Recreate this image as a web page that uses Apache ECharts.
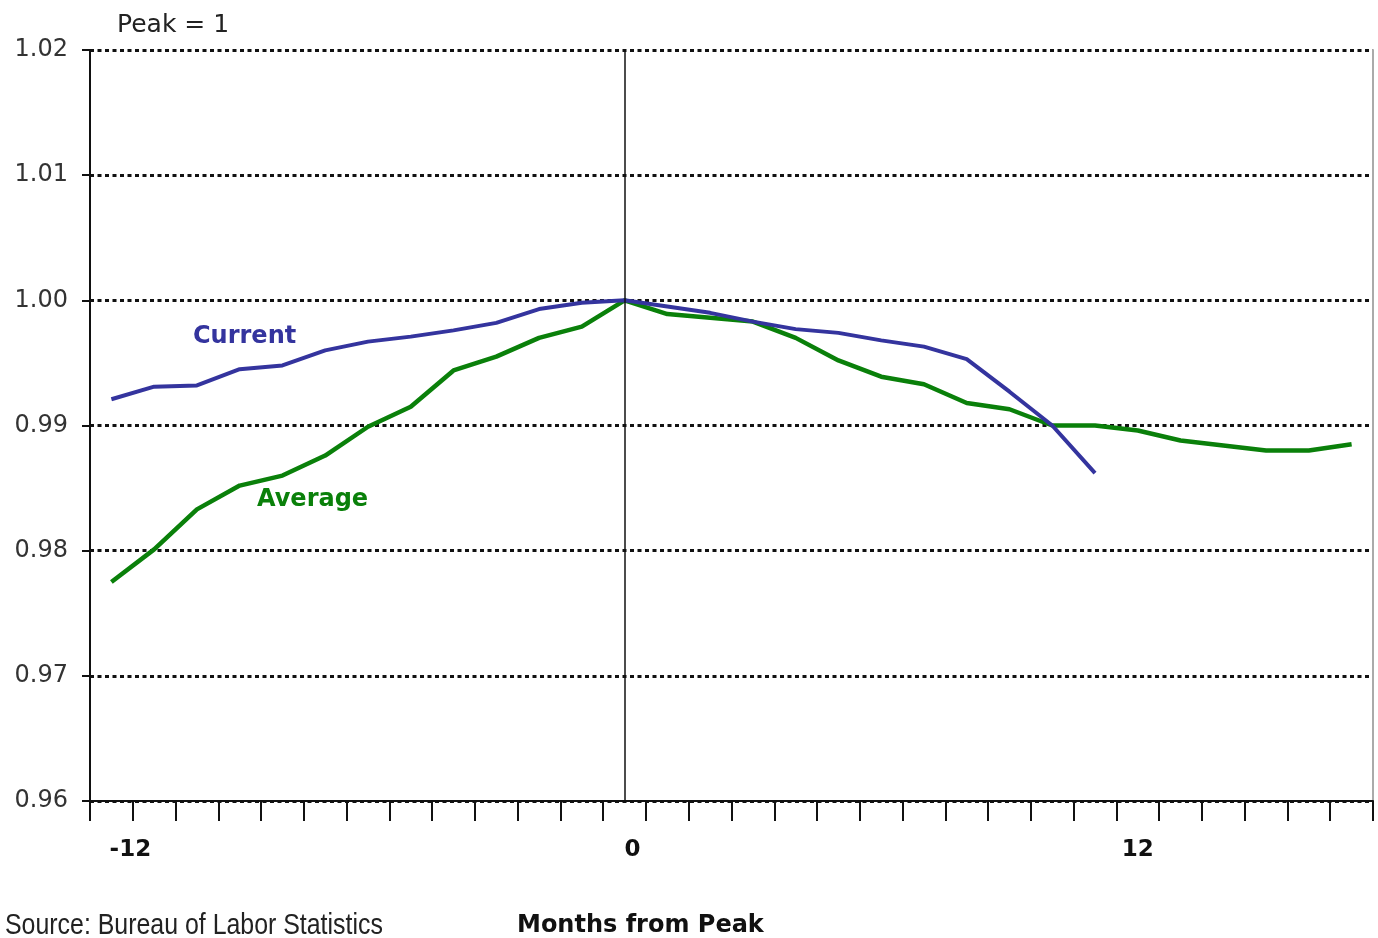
<!DOCTYPE html>
<html>
<head>
<meta charset="utf-8">
<script src="https://cdn.jsdelivr.net/npm/echarts@6/dist/echarts.min.js"></script>
<style>
html,body{margin:0;padding:0;background:#fff;}
#chart{width:1378px;height:938px;}
</style>
</head>
<body>
<div id="chart"></div>
<script>
// Months from peak (categories)
var months = [];
for (var m = -12; m <= 17; m++) months.push(String(m));

// Index values (Peak = 1)
var currentValues = [
  0.9921, 0.9931, 0.9932, 0.9945, 0.9948, 0.9960, 0.9967, 0.9971, 0.9976, 0.9982,
  0.9993, 0.9998, 1.0000, 0.9995, 0.9990, 0.9983, 0.9977, 0.9974, 0.9968, 0.9963,
  0.9953, 0.9927, 0.9900, 0.9862
];
var averageValues = [
  0.9775, 0.9801, 0.9833, 0.9852, 0.9860, 0.9876, 0.9899, 0.9915, 0.9944, 0.9955,
  0.9970, 0.9979, 1.0000, 0.9989, 0.9986, 0.9983, 0.9970, 0.9952, 0.9939, 0.9933,
  0.9918, 0.9913, 0.9900, 0.9900, 0.9896, 0.9888, 0.9884, 0.9880, 0.9880, 0.9885
];
var yTicks = { min: 0.96, max: 1.02, step: 0.01 };
var labelEvery = 12;

var chart = echarts.init(document.getElementById('chart'), null, { renderer: 'canvas' });

var option = {
  backgroundColor: '#ffffff',
  animation: false,
  grid: { left: 90, right: 5, top: 50, bottom: 137, containLabel: false },
  xAxis: {
    type: 'category',
    data: months,
    boundaryGap: true,
    axisLine: { show: true, lineStyle: { color: '#111', width: 2 } },
    axisTick: { show: true, interval: 0, length: 20, lineStyle: { color: '#111', width: 2 } },
    axisLabel: {
      interval: function (idx) { return idx % labelEvery === 0; },
      margin: 38,
      color: '#111',
      fontFamily: 'DejaVu Sans',
      fontWeight: 'bold',
      fontSize: 23,
      formatter: function (v) {
        if (v === '-12') return '{a|' + v + '}';
        if (v === '0') return '{b|' + v + '}';
        return v;
      },
      rich: {
        a: { padding: [0, 0, 0, 38], fontFamily: 'DejaVu Sans', fontWeight: 'bold', fontSize: 23, color: '#111' },
        b: { padding: [0, 0, 0, 16], fontFamily: 'DejaVu Sans', fontWeight: 'bold', fontSize: 23, color: '#111' }
      }
    },
    splitLine: { show: false }
  },
  yAxis: [{
    type: 'value',
    min: yTicks.min,
    max: yTicks.max,
    interval: yTicks.step,
    axisLine: { show: true, lineStyle: { color: '#111', width: 2 } },
    axisTick: { show: true, length: 8, lineStyle: { color: '#111', width: 2 } },
    axisLabel: {
      margin: 22,
      color: '#333',
      fontFamily: 'DejaVu Sans',
      fontSize: 24,
      formatter: function (v) { return v.toFixed(2); }
    },
    splitLine: { show: true, lineStyle: { color: '#111', width: 3, type: [4, 3.5] } }
  }, {
    type: 'value',
    position: 'right',
    min: yTicks.min,
    max: yTicks.max,
    interval: yTicks.step,
    axisLine: { show: true, lineStyle: { color: '#aaaaaa', width: 2 } },
    axisTick: { show: false },
    axisLabel: { show: false },
    splitLine: { show: false }
  }],
  series: [{
    name: 'Current',
    type: 'line',
    data: currentValues,
    showSymbol: false,
    symbol: 'none',
    z: 3,
    lineStyle: { color: '#34349e', width: 4 },
    markLine: {
      silent: true,
      symbol: 'none',
      label: { show: false },
      lineStyle: { color: '#111', width: 1.5, type: 'solid' },
      data: [{ xAxis: '0' }]
    }
  }, {
    name: 'Average',
    type: 'line',
    data: averageValues,
    showSymbol: false,
    symbol: 'none',
    z: 2,
    lineStyle: { color: '#0a800a', width: 4.5 }
  }],
  graphic: [
    { type: 'text', x: 117, y: 25, style: { text: 'Peak = 1', fill: '#222', font: '25px "DejaVu Sans"', textVerticalAlign: 'middle' } },
    { type: 'text', x: 193, y: 337, z: 10, style: { text: 'Current', fill: '#34349e', font: 'bold 24px "DejaVu Sans"', textVerticalAlign: 'middle' } },
    { type: 'text', x: 257, y: 500, z: 10, style: { text: 'Average', fill: '#0a800a', font: 'bold 24px "DejaVu Sans"', textVerticalAlign: 'middle' } },
    { type: 'text', x: 5, y: 926, scaleX: 0.83, style: { text: 'Source: Bureau of Labor Statistics', fill: '#222', font: '30px "Liberation Sans"', textVerticalAlign: 'middle' } },
    { type: 'text', x: 517, y: 926, style: { text: 'Months from Peak', fill: '#111', font: 'bold 24px "DejaVu Sans"', textVerticalAlign: 'middle' } }
  ]
};
chart.setOption(option);
</script>
</body>
</html>
